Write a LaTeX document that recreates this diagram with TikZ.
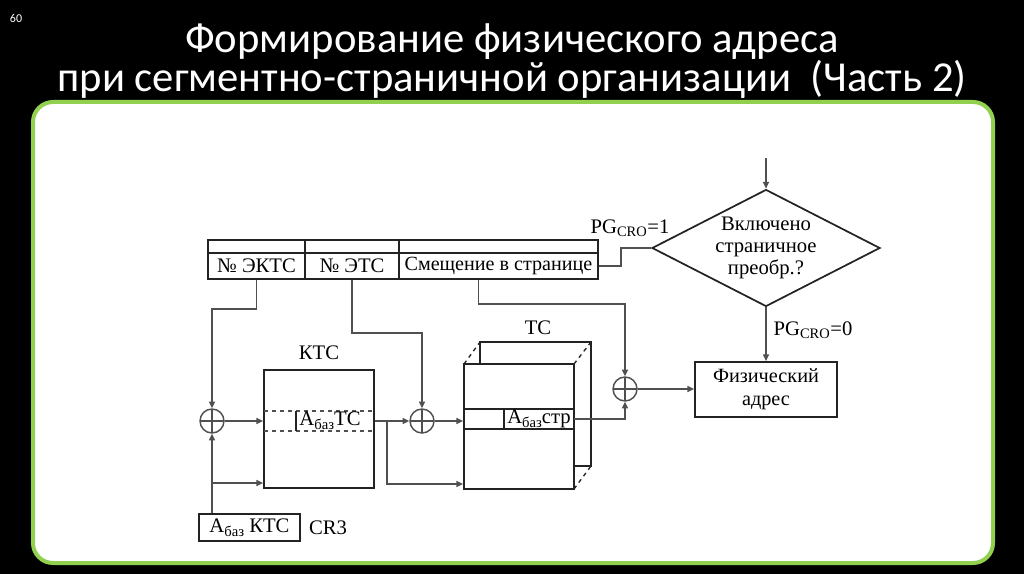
\documentclass[tikz,border=0pt]{standalone}
\usepackage{fontspec}
\setmainfont{Liberation Serif}
\newfontfamily\titlefont{Carlito}
\usetikzlibrary{shapes.geometric,arrows.meta,calc}
\definecolor{frame}{RGB}{146,208,80}
\definecolor{boxc}{RGB}{35,35,35}
\definecolor{linec}{RGB}{80,80,80}
\newcommand\lowsub[1]{\raisebox{-0.4ex}{\fontsize{11pt}{11pt}\selectfont #1}}
\tikzset{
  box/.style={draw=boxc,line width=1.3pt,inner sep=0pt,fill=white},
  conn/.style={draw=linec,line width=1.1pt},
  arr/.style={conn,-{Triangle[length=5pt,width=4.5pt]}},
  sumnode/.style={circle,draw=linec,line width=1.1pt,minimum size=18pt,inner sep=0pt,fill=white,
    path picture={\draw[linec,line width=1.1pt] (path picture bounding box.west)--(path picture bounding box.east)
      (path picture bounding box.north)--(path picture bounding box.south);}},
  lbl/.style={inner sep=0pt,font=\fontsize{15.5pt}{16.5pt}\selectfont},
}
\begin{document}
\begin{tikzpicture}[x=0.75pt,y=-0.75pt]
\fill[black] (0,0) rectangle (1024,574);
\useasboundingbox (0,0) rectangle (1024,574);
\node[text=white,font=\titlefont\fontsize{9pt}{9pt}\selectfont] (num) at (16,18) {60};
\node[text=white,font=\titlefont\fontsize{32pt}{29.5pt}\selectfont,align=center] (title) at (512,61)
  {Формирование физического адреса\\при сегментно-страничной организации\ \ (Часть 2)};
\draw[frame,line width=3pt,fill=white,rounded corners=15pt] (33,102) rectangle (993,563);

% register
\node[box,minimum width=72.75pt,minimum height=9.75pt] (t1) at (256.5,246.5) {};
\node[box,minimum width=70.5pt,minimum height=9.75pt] (t2) at (352,246.5) {};
\node[box,minimum width=149.25pt,minimum height=9.75pt] (t3) at (498.5,246.5) {};
\node[box,lbl,minimum width=72.75pt,minimum height=19.5pt] (c1) at (256.5,266) {№ ЭКТС};
\node[box,lbl,minimum width=70.5pt,minimum height=19.5pt] (c2) at (352,266) {№ ЭТС};
\node[box,lbl,font=\fontsize{15.1pt}{16pt}\selectfont,minimum width=149.25pt,minimum height=19.5pt] (c3) at (498.5,266) {Смещение в странице};

% diamond
\node[box,diamond,shape aspect=1.95,inner sep=-3pt,minimum width=171pt,minimum height=87.75pt,align=center,
  font=\fontsize{15.5pt}{16.2pt}\selectfont] (dia) at (766,248)
  {Включено\\страничное\\преобр.?};
\coordinate (in) at (766,158);
\node[lbl,anchor=center] (pg1) at (630,228) {PG\textsubscript{CRO}=1};
\node[lbl,anchor=center] (pg0) at (813,330) {PG\textsubscript{CRO}=0};

% physical address
\node[box,minimum width=106.5pt,minimum height=41.25pt,align=center,
  font=\fontsize{15.2pt}{17pt}\selectfont] (phys) at (766,389.5) {Физический\\адрес};

% sums
\node[sumnode] (s1) at (212,421) {};
\node[sumnode] (s2) at (422,421) {};
\node[sumnode] (s3) at (625,389) {};

% KTC table
\node[box,minimum width=82.5pt,minimum height=88.5pt] (ktc) at (319,429) {};
\draw[linec,line width=1pt,dashed] (264,411) -- (374,411) (264,431) -- (374,431);
\draw[boxc,line width=1pt] (296,411) -- (296,431);
\node[lbl] (ktcrow) at (330,421) {A\lowsub{баз}TC};
\node[lbl] (ktcl) at (319,353) {КТС};

% TC table (3D)
\draw[boxc,line width=1.3pt] (480,364) -- (480,342) -- (591,342) -- (591,466) -- (574,466);
\draw[boxc,line width=1pt,dashed] (464,364) -- (480,342) (574,364) -- (591,342) (574,489) -- (591,466);
\node[box,minimum width=82.5pt,minimum height=93.75pt] (tc) at (519,426.5) {};
\draw[boxc,line width=1.1pt] (464,409) -- (574,409) (464,429) -- (574,429) (504,409) -- (504,429);
\node[lbl] (tcrow) at (539,419) {A\lowsub{баз}стр};
\coordinate (tcout) at (574,419);
\node[lbl] (tcl) at (538,328) {ТС};

% CR3
\node[box,lbl,minimum width=75.75pt,minimum height=20.25pt] (cr3) at (249.5,527.5) {A\lowsub{баз} КТС};
\node[lbl] (cr3l) at (328,528) {CR3};

% connectors
\draw[arr] (c1.south) -- ++(0,29) -| (s1.north);
\draw[arr] (c2.south) -- ++(0,53) -| (s2.north);
\draw[arr] ($(c3.south)+(-20,0)$) -- ++(0,24) -| (s3.north);
\draw[conn] (c3.east) -- ++(22,0) |- (dia.west);
\draw[arr] (in) -- (dia.north);
\draw[arr] (dia.south) -- (phys.north);
\draw[arr] (s3.east) -- (s3 -| phys.west);
\draw[arr] (s1.east) -- (s1 -| ktc.west);
\draw[arr] (s1 |- cr3.north) -- (s1.south);
\draw[arr] (212,483) -- (ktc.west |- 0,483);
\draw[arr] (s2 -| ktc.east) -- (s2.west);
\draw[arr] (387,421) |- (tc.west |- 0,484);
\draw[arr] (s2.east) -- (s2 -| tc.west);
\draw[arr] (tcout) -| (s3.south);
\end{tikzpicture}
\end{document}
